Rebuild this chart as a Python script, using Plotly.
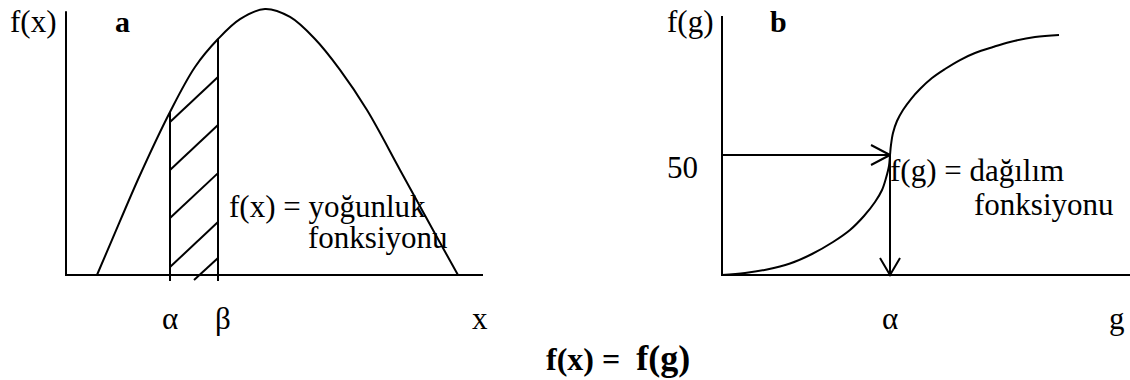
import numpy as np
import plotly.graph_objects as go

# ---------------- panel a : density function ----------------
X_A = [7.43, 11.03, 17.75, 24.94, 30.94, 36.45, 41.73, 47.72, 53.72, 59.71, 65.71, 72.18, 80.10, 88.01, 94.0]
F_A = [0.0, 0.132, 0.376, 0.613, 0.782, 0.887, 0.962, 1.0, 0.970, 0.887, 0.771, 0.620, 0.395, 0.169, 0.0]
ALPHA_A = 24.94
BETA_A = 36.45
X_A_END = 100.0
F_A_TOP = 0.992

# hatch strokes between alpha and beta (start x, start f, end x, end f)
HATCH_X0 = [24.94, 24.94, 24.94, 24.94, 30.7]
HATCH_Y0 = [0.575, 0.395, 0.214, 0.030, -0.019]
HATCH_X1 = [36.45, 36.45, 36.45, 36.45, 36.45]
HATCH_Y1 = [0.744, 0.564, 0.383, 0.199, 0.064]
TICK_FOOT = -0.023

# ---------------- panel b : distribution function ----------------
G_B = [0.0, 5.64, 11.03, 16.67, 22.06, 27.21, 31.37, 34.80, 37.50, 39.22, 40.20, 40.93, 41.18,
       41.42, 41.91, 42.89, 44.36, 46.32, 48.53, 51.47, 54.66, 58.33, 62.01, 66.42, 70.59,
       76.72, 82.60]
F_B = [0.0, 0.83, 2.29, 4.79, 8.75, 13.75, 18.75, 24.58, 30.42, 35.42, 40.42, 45.42, 50.0,
       54.17, 59.17, 64.17, 68.75, 73.33, 77.5, 82.08, 85.83, 89.58, 92.5, 95.0, 97.08,
       99.17, 100.0]
LEVEL_B = 50
ALPHA_B = 41.18
G_B_END = 100.0
F_B_TOP = 107.9

INK = "black"
SERIF = "Liberation Serif"
LW = 2
FS = 31

W, H = 1130, 380
SX_A, SY_A = 4.17, 266.0   # pixels per unit, panel a
SX_B, SY_B = 4.08, 2.4     # pixels per unit, panel b
HEAD_LEN, HEAD_HALF = 19, 10  # arrowhead size in pixels

fig = go.Figure()

def seg(x, y, xa, ya, width=LW):
    fig.add_trace(go.Scatter(x=x, y=y, mode="lines", xaxis=xa, yaxis=ya,
                             line=dict(color=INK, width=width), hoverinfo="skip",
                             showlegend=False))

# panel a axes
seg([0, 0, X_A_END], [F_A_TOP, 0, 0], "x", "y")
# density curve
fig.add_trace(go.Scatter(x=X_A, y=F_A, mode="lines", line=dict(color=INK, width=LW, shape="spline"),
                         hoverinfo="skip", showlegend=False))
# alpha / beta verticals
for v in (ALPHA_A, BETA_A):
    seg([v, v], [TICK_FOOT, float(np.interp(v, X_A, F_A))], "x", "y")
# hatching
for x0, y0, x1, y1 in zip(HATCH_X0, HATCH_Y0, HATCH_X1, HATCH_Y1):
    seg([x0, x1], [y0, y1], "x", "y")

# panel b axes
seg([0, 0, G_B_END], [F_B_TOP, 0, 0], "x2", "y2")
fig.add_trace(go.Scatter(x=G_B, y=F_B, mode="lines", xaxis="x2", yaxis="y2",
                         line=dict(color=INK, width=LW, shape="spline", smoothing=1.0),
                         hoverinfo="skip", showlegend=False))

# arrows: 50 -> curve, then curve -> alpha
seg([0, ALPHA_B], [LEVEL_B, LEVEL_B], "x2", "y2")
hl, hh = HEAD_LEN / SX_B, HEAD_HALF / SY_B
seg([ALPHA_B - hl, ALPHA_B, ALPHA_B - hl], [LEVEL_B + hh, LEVEL_B, LEVEL_B - hh], "x2", "y2")
seg([ALPHA_B, ALPHA_B], [LEVEL_B, 0], "x2", "y2")
vl, vh = (HEAD_LEN - 2) / SY_B, HEAD_HALF / SX_B
seg([ALPHA_B - vh, ALPHA_B, ALPHA_B + vh], [vl, 0, vl], "x2", "y2")

def px_x(p):
    return p / W
def px_y(p):
    return (H - p) / H

ann = []
def label(text, x, y, xref="paper", yref="paper", size=FS, xanchor="center", bold=False, **kw):
    if bold:
        text = "<b>" + text + "</b>"
    ann.append(dict(text=text, x=x, y=y, xref=xref, yref=yref, showarrow=False,
                    xanchor=xanchor, yanchor="middle",
                    font=dict(family=SERIF, size=size, color=INK), **kw))

label("f(x)", px_x(33), px_y(22))
label("a", px_x(122), px_y(22), bold=True, size=30)
label("f(x) = yoğunluk", px_x(227), px_y(206), xanchor="left")
label("fonksiyonu", px_x(306), px_y(238), xanchor="left")
label("α", ALPHA_A, px_y(318), xref="x")
label("β", BETA_A, px_y(318), xref="x", xshift=5)
label("x", 99.3, px_y(318), xref="x")

label("f(g)", px_x(690), px_y(22))
label("b", px_x(778), px_y(22), bold=True, size=30)
label(str(LEVEL_B), px_x(682), LEVEL_B, yref="y2", yshift=-12)
label("f(g) = dağılım", px_x(888), px_y(171), xanchor="left")
label("fonksiyonu", px_x(972), px_y(204), xanchor="left")
label("α", ALPHA_B, px_y(318), xref="x2")
label("g", px_x(1117), px_y(318))

label("<b>f(x) =\u00a0 </b><b><span style='font-size:36px'>f(g)</span></b>", px_x(618), px_y(358), size=32)

def xr(p0, p1, origin, scale):
    return [(p0 - origin) / scale, (p1 - origin) / scale]

PY0, PY1 = 3, 290
fig.update_layout(
    width=W, height=H, autosize=False,
    margin=dict(l=0, r=0, t=0, b=0),
    paper_bgcolor="white", plot_bgcolor="white",
    annotations=ann,
    xaxis=dict(domain=[56 / W, 500 / W], range=xr(56, 500, 66, SX_A), visible=False),
    yaxis=dict(domain=[px_y(PY1), px_y(PY0)], range=[(275 - PY1) / SY_A, (275 - PY0) / SY_A], visible=False),
    xaxis2=dict(domain=[712 / W, 1.0], range=xr(712, 1130, 722, SX_B), visible=False, anchor="y2"),
    yaxis2=dict(domain=[px_y(PY1), px_y(PY0)], range=[(275 - PY1) / SY_B, (275 - PY0) / SY_B],
                visible=False, anchor="x2"),
)

fig.write_html("out.html")
